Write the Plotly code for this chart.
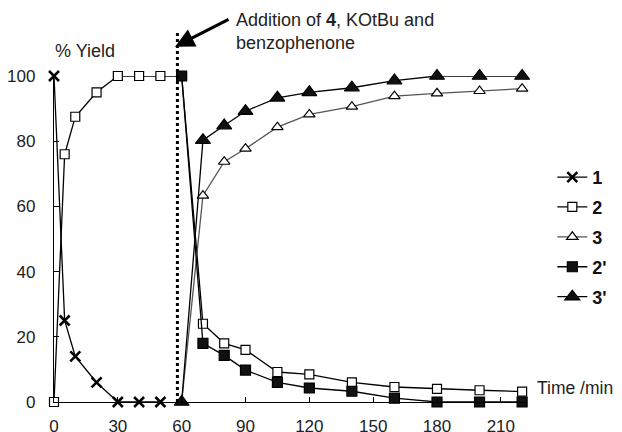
import plotly.graph_objects as go

FONT = "Liberation Sans, Arial, sans-serif"

# Series data
t1 = [0, 5, 10, 20, 30, 40, 50]
y1 = [100, 25, 14, 6, 0, 0, 0]

t2 = [0, 5, 10, 20, 30, 40, 50, 60, 70, 80, 90, 105, 120, 140, 160, 180, 200, 220]
y2 = [0, 76, 87.5, 95, 100, 100, 100, 100, 24, 18, 16, 9.2, 8.5, 6, 4.6, 4, 3.6, 3.2]

t3 = [60, 70, 80, 90, 105, 120, 140, 160, 180, 200, 220]
y3 = [0, 63.3, 73.7, 77.7, 84.3, 88.2, 90.6, 93.8, 94.7, 95.4, 96.1]

t2p = [60, 70, 80, 90, 105, 120, 140, 160, 180, 200, 220]
y2p = [100, 18, 14.3, 9.8, 6, 4.3, 3.3, 1.2, 0, 0, 0]

t3p = [60, 70, 80, 90, 105, 120, 140, 160, 180, 200, 220]
y3p = [0, 80.3, 84.8, 89.2, 93.3, 95, 96.4, 98.6, 100, 100, 100]

x_ticks = [0, 30, 60, 90, 120, 150, 180, 210]
y_ticks = [0, 20, 40, 60, 80, 100]
addition_time = 58
X_MAX = 222.3

# page offset (body margin) and plot-area geometry in screen pixels
OFF = 8
L, R, T, B = 54, 526.7, 76.3, 401.7
W, H = R - L, B - T

def px(xp):
    return (xp - L) / W

def py(yp):
    return (B - yp) / H

fig = go.Figure()

def add(x, y, name, symbol, size, fill, lcolor="black", mlw=1.2):
    fig.add_trace(go.Scatter(
        x=x, y=y, name=name, mode="lines+markers",
        line=dict(color=lcolor, width=1.3),
        marker=dict(symbol=symbol, size=size, color=fill,
                    line=dict(color="black", width=mlw)),
        cliponaxis=False, legendgroup=name,
    ))

add(t1, y1, "1", "x-thin", 10, "black", mlw=2.5)
add(t2, y2, "2", "square", 9, "white")
add(t3, y3, "3", "triangle-up", 10, "white", lcolor="#555555")
add(t2p, y2p, "2'", "square", 10, "#111111")
add(t3p, y3p, "3'", "triangle-up", 13, "#111111")

fig.add_shape(type="line", xref="paper", yref="paper",
              x0=addition_time / X_MAX, x1=addition_time / X_MAX,
              y0=0, y1=py(33),
              line=dict(color="black", width=3, dash="dot"))

fig.add_annotation(x=px(175), y=py(47), xref="paper", yref="paper",
                   ax=55, ay=-28, axref="pixel", ayref="pixel",
                   text="", showarrow=True, arrowhead=2, arrowsize=1.2,
                   arrowwidth=3.2, arrowcolor="black", standoff=0)

fig.add_annotation(x=px(234), y=py(8), xref="paper", yref="paper",
                   xanchor="left", yanchor="top", align="left", showarrow=False,
                   text="Addition of <b>4</b>, KOtBu and<br>benzophenone",
                   font=dict(family=FONT, size=18, color="#222"))

fig.add_annotation(x=px(53), y=py(51.7), xref="paper", yref="paper",
                   xanchor="left", yanchor="middle", showarrow=False,
                   text="% Yield", font=dict(family=FONT, size=18, color="#222"))

fig.add_annotation(x=px(535), y=py(388), xref="paper", yref="paper",
                   xanchor="left", yanchor="middle", showarrow=False,
                   text="Time /min", font=dict(family=FONT, size=17.5, color="#222"))

fig.update_layout(
    width=622, height=432,
    margin=dict(l=L - OFF, r=622 - R + OFF, t=T - OFF, b=432 - B + OFF,
                pad=0, autoexpand=False),
    paper_bgcolor="white", plot_bgcolor="white",
    font=dict(family=FONT, size=17, color="#222"),
    showlegend=True,
    legend=dict(x=px(552), y=py(159), xanchor="left", yanchor="top",
                tracegroupgap=3.5,
                font=dict(family=FONT, size=18, color="#111", weight="bold"),
                bgcolor="rgba(0,0,0,0)"),
    xaxis=dict(range=[0, X_MAX], tickvals=x_ticks, ticks="inside", ticklen=5,
               tickcolor="black", showline=True, linecolor="black", linewidth=1.3,
               showgrid=False, zeroline=False, ticklabelstandoff=8),
    yaxis=dict(range=[0, 100], tickvals=y_ticks, ticks="inside", ticklen=5,
               tickcolor="black", showline=True, linecolor="black", linewidth=1.3,
               showgrid=False, zeroline=False, ticklabelstandoff=14),
)

fig.write_html("out.html")
